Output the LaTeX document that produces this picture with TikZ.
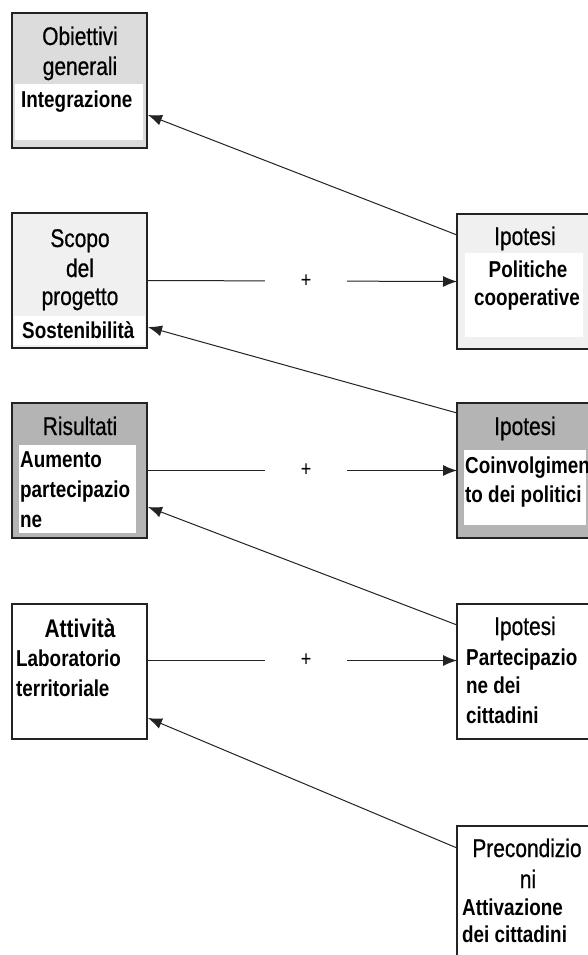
\documentclass[tikz,border=0pt]{standalone}
\usepackage{fontspec}
\setmainfont{Liberation Sans}[FakeStretch=0.82]
\newfontfamily\ttlfont{Liberation Sans}[FakeStretch=0.82,FakeBold=0.6]
\usetikzlibrary{arrows.meta,calc}
\definecolor{gA}{RGB}{220,220,220}
\definecolor{gB}{RGB}{240,240,240}
\definecolor{gC}{RGB}{180,180,180}
\definecolor{edge}{RGB}{35,35,35}
\begin{document}
\begin{tikzpicture}[x=1pt,y=-1pt,
  box/.style={draw=edge,line width=1.3pt,anchor=north west,minimum width=135pt,minimum height=135pt,inner sep=0pt,outer sep=0pt},
  rbox/.style={box,minimum width=150pt},
  ttl/.style={anchor=base,inner sep=0pt,font=\fontsize{25.5}{29}\ttlfont},
  ttlb/.style={ttl,font=\fontsize{25.5}{29}\selectfont\bfseries},
  txt/.style={anchor=base west,inner sep=0pt,font=\fontsize{23}{28}\selectfont\bfseries},
  txtc/.style={txt,anchor=base},
  inner/.style={fill=white},
  arr/.style={draw=edge,line width=1pt,-{Latex[length=14pt,width=11pt]}},
  plus/.style={fill=white,minimum width=82pt,minimum height=8pt,inner sep=0pt,font=\fontsize{22}{24}\selectfont}]
\useasboundingbox (0,0) rectangle (588,955);
\clip (0,0) rectangle (588,955);
\fill[white] (0,0) rectangle (588,955);

% left boxes
\node[box,fill=gA] (b1) at (12,13) {};
\node[box,fill=gB] (b2) at (12,213) {};
\node[box,fill=gC] (b3) at (12,403) {};
\node[box,fill=white] (b4) at (12,604) {};
% right boxes
\node[rbox,fill=gB] (r1) at (457,214) {};
\node[rbox,fill=gC] (r2) at (457,403) {};
\node[rbox,fill=white] (r3) at (457,604) {};
\node[rbox,fill=white,minimum height=150pt] (r4) at (457,826) {};

% inner white areas
\fill[inner] (15,84) rectangle (143,140);
\fill[inner] (14,316) rectangle (145,345);
\fill[inner] (19,445) rectangle (136,533);
\fill[inner] (465,253) rectangle (583,337);
\fill[inner] (464,450) rectangle (586,525);

% texts left
\node[ttl] (t11) at (80,45) {Obiettivi};
\node[ttl] (t12) at (80,75) {generali};
\node[txt] (t13) at (21,108) {Integrazione};
\node[ttl] (t21) at (80,247) {Scopo};
\node[ttl] (t22) at (80,277) {del};
\node[ttl] (t23) at (80,305) {progetto};
\node[txt] (t24) at (22,338) {Sostenibilità};
\node[ttl] (t31) at (80,435) {Risultati};
\node[txt] (t32) at (20,467) {Aumento};
\node[txt] (t33) at (20,497) {partecipazio};
\node[txt] (t34) at (20,527) {ne};
\node[ttlb] (t41) at (80,637) {Attività};
\node[txt] (t42) at (16,666) {Laboratorio};
\node[txt] (t43) at (16,696) {territoriale};
% texts right
\node[ttl] (u11) at (525,245) {Ipotesi};
\node[txtc] (u12) at (528,277) {Politiche};
\node[txtc] (u13) at (527,305) {cooperative};
\node[ttl] (u21) at (525,435) {Ipotesi};
\node[txt] (u22) at (465,473) {Coinvolgimen};
\node[txt] (u23) at (465,502) {to dei politici};
\node[ttl] (u31) at (525,635) {Ipotesi};
\node[txt] (u32) at (466,665) {Partecipazio};
\node[txt] (u33) at (466,693) {ne dei};
\node[txt] (u34) at (466,723) {cittadini};
\node[ttl] (u41) at (527,857) {Precondizio};
\node[ttl] (u42) at (528,888) {ni};
\node[txt] (u43) at (462,915) {Attivazione};
\node[txt] (u44) at (462,942) {dei cittadini};

% horizontal connectors
\draw[arr] (b2.east) -- node[plus,pos=0.513]{+} (r1.west);
\draw[arr] (b3.east) -- node[plus,pos=0.513]{+} (r2.west);
\draw[arr] ($(b4.east)+(0,-11)$) -- node[plus,pos=0.513]{+} ($(r3.west)+(0,-11)$);

% diagonal connectors
\draw[arr] ($(r1.north west)+(0,21)$) -- ($(b1.north east)+(1,102)$);
\draw[arr] ($(r2.north west)+(0,10)$) -- ($(b2.north east)+(1,114)$);
\draw[arr] ($(r3.north west)+(0,21)$) -- ($(b3.north east)+(1,104)$);
\draw[arr] ($(r4.north west)+(0,22)$) -- ($(b4.north east)+(1,114)$);
\end{tikzpicture}
\end{document}
